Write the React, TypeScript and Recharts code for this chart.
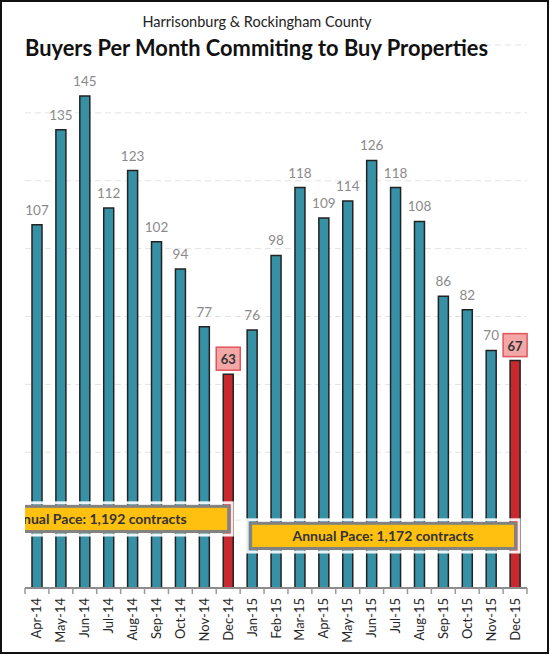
import React from "react";
import { BarChart, Bar, XAxis, YAxis, CartesianGrid, Cell, LabelList, ReferenceArea } from "recharts";

const months = ["Apr-14","May-14","Jun-14","Jul-14","Aug-14","Sep-14","Oct-14","Nov-14","Dec-14","Jan-15","Feb-15","Mar-15","Apr-15","May-15","Jun-15","Jul-15","Aug-15","Sep-15","Oct-15","Nov-15","Dec-15"];
const buyers = [107,135,145,112,123,102,94,77,63,76,98,118,109,114,126,118,108,86,82,70,67];
const highlightMonths = ["Dec-14","Dec-15"];
const gridTicks = [0,20,40,60,80,100,120,140];
const paceLabels = ["Annual Pace: 1,192 contracts","Annual Pace: 1,172 contracts"];
const paceStart = ["Apr-14","Jan-15"];
const paceEnd = ["Dec-14","Dec-15"];
const paceTop = [24.5,19.5];
const paceBottom = [16.2,11.2];

const data = months.map((m, i) => ({ month: m, value: buyers[i], hi: highlightMonths.includes(m) }));

const FONT = "Lato, 'Open Sans', sans-serif";
const TEAL = "#3791a6";
const RED = "#c8292f";
const BAND = (527 - 25) / months.length;

const XTick = (props: any) => {
  const { x, y, payload, index } = props;
  return (
    <g>
      <line x1={x - BAND / 2} x2={x - BAND / 2} y1={y} y2={y + 6} stroke="#999" strokeWidth={1.5} />
      {index === months.length - 1 && (
        <line x1={x + BAND / 2} x2={x + BAND / 2} y1={y} y2={y + 6} stroke="#999" strokeWidth={1.5} />
      )}
      <text
        x={x + 4.5}
        y={y + 10}
        transform={`rotate(-90, ${x + 4.5}, ${y + 10})`}
        textAnchor="end"
        fontFamily={FONT}
        fontSize={13}
        fill="#262626"
      >
        {payload.value}
      </text>
    </g>
  );
};

const ValueLabel = (props: any) => {
  const { x, y, width, value, index } = props;
  const cx = x + width / 2;
  if (data[index] && data[index].hi) {
    return (
      <g>
        <rect x={cx - 12} y={y - 27} width={24} height={23} fill="#f3a7a7" stroke="#e0565c" strokeWidth={1.5} />
        <text x={cx} y={y - 10} textAnchor="middle" fontFamily={FONT} fontSize={13} fontWeight="bold" fill="#333">
          {value}
        </text>
      </g>
    );
  }
  return (
    <text x={cx} y={y - 10} textAnchor="middle" fontFamily={FONT} fontSize={13.5} fill="#8a8a8a">
      {value}
    </text>
  );
};

const PaceBox = (props: any) => {
  const { x, y, width, height, text, extendLeft, clipId } = props;
  const left = x + 9 - extendLeft;
  const right = x + width - 10;
  const w = right - left;
  return (
    <g>
      <defs>
        <clipPath id={clipId}>
          <rect x={x} y={y - 20} width={1000} height={height + 40} />
        </clipPath>
      </defs>
      <g clipPath={`url(#${clipId})`}>
        <rect x={left - 2} y={y - 2} width={w + 4} height={height + 4} fill="none" stroke="#ffffff" strokeWidth={3} opacity={0.9} />
        <rect x={left + 1.5} y={y + 1.5} width={w - 3} height={height - 3} fill="#ffc010" stroke="#828282" strokeWidth={3} />
        <text x={left + w / 2} y={y + height / 2 + 5} textAnchor="middle" fontFamily={FONT} fontSize={14} fontWeight="bold" fill="#333">
          {text}
        </text>
      </g>
    </g>
  );
};

export default function App() {
  return (
    <div style={{ position: "absolute", left: 0, top: 0, width: 550, height: 655, background: "#fff" }}>
      <BarChart
        width={550}
        height={655}
        data={data}
        margin={{ top: 45, right: 23, left: 25, bottom: 7 }}
      >
        <CartesianGrid vertical={false} horizontal={true} stroke="#e3e3e3" strokeDasharray="6 4" />
        <YAxis hide domain={[0, 160]} ticks={gridTicks} type="number" />
        <XAxis
          dataKey="month"
          height={60}
          interval={0}
          tickLine={false}
          tickSize={0}
          tickMargin={0}
          axisLine={{ stroke: "#8c8c8c", strokeWidth: 2 }}
          tick={<XTick />}
        />
        <Bar dataKey="value" barSize={10} stroke="#222" strokeWidth={1.5} isAnimationActive={false}>
          {data.map((d, i) => (
            <Cell key={i} fill={d.hi ? RED : TEAL} />
          ))}
          <LabelList dataKey="value" content={<ValueLabel />} />
        </Bar>
        {paceLabels.map((t, i) => (
          <ReferenceArea
            key={i}
            x1={paceStart[i]}
            x2={paceEnd[i]}
            y1={paceBottom[i]}
            y2={paceTop[i]}
            ifOverflow="visible"
            zIndex={1500}
            shape={(p: any) => <PaceBox {...p} text={t} extendLeft={i === 0 ? 72 : 0} clipId={`paceClip${i}`} />}
          />
        ))}
      </BarChart>
      <svg width={550} height={655} style={{ position: "absolute", left: 0, top: 0, pointerEvents: "none" }}>
        <rect x={1} y={1} width={547} height={652} fill="none" stroke="#111" strokeWidth={2} />
        <text x={257} y={27} textAnchor="middle" fontFamily={FONT} fontSize={15} fill="#222" textLength={229} lengthAdjust="spacingAndGlyphs">
          Harrisonburg &amp; Rockingham County
        </text>
        <text x={256.5} y={56} textAnchor="middle" fontFamily={FONT} fontSize={22.5} fontWeight="bold" fill="#111" textLength={463} lengthAdjust="spacingAndGlyphs">
          Buyers Per Month Commiting to Buy Properties
        </text>
      </svg>
    </div>
  );
}
